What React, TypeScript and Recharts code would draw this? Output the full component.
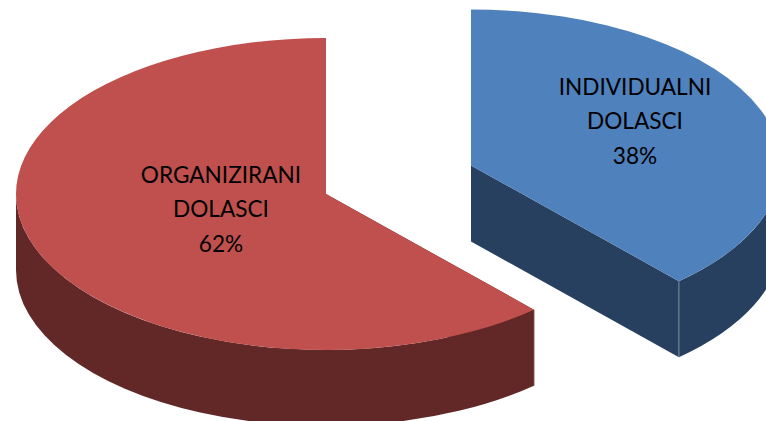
import React from "react";
import { PieChart, Pie } from "recharts";

const names = ["INDIVIDUALNI|DOLASCI", "ORGANIZIRANI|DOLASCI"];
const shares = [38.3, 61.7];
const topColors = ["#4F81BD", "#C0504D"];
const sideColors = ["#28405F", "#622828"];
const seamColors = ["#7E8DA1", "#7A4644"];
const explode = [
  { x: 145, y: -28.5 },
  { x: 0, y: 0 },
];
const labelCenters = [
  { x: 164, y: -44.5 },
  { x: -105, y: 15 },
];

const RX = 310;
const RY_RATIO = 0.503;
const DEPTH = 76;
const FONT = "Lato, 'Noto Sans', sans-serif";
const FONT_SIZE = 22.6;
const LINE = 34.5;

const data = names.map((name, i) => ({ name, value: shares[i], fill: topColors[i], i }));

function SliceShape(props: any) {
  const { cx, cy, outerRadius, startAngle, endAngle, payload } = props;
  const idx = payload?.i ?? props.index ?? 0;
  const ox = cx + explode[idx].x;
  const oy = cy + explode[idx].y;
  const rx = outerRadius;
  const ry = outerRadius * RY_RATIO;
  const pt = (deg: number, dz = 0) => {
    const r = (deg * Math.PI) / 180;
    return { x: ox + rx * Math.cos(r), y: oy - ry * Math.sin(r) + dz };
  };
  const s = pt(startAngle);
  const e = pt(endAngle);
  const large = Math.abs(startAngle - endAngle) > 180 ? 1 : 0;
  const top = `M${ox},${oy} L${s.x},${s.y} A${rx},${ry} 0 ${large} 1 ${e.x},${e.y} Z`;

  const from = Math.min(startAngle, 0);
  const to = Math.max(endAngle, -180);
  const a = pt(from);
  const b = pt(to);
  const aD = pt(from, DEPTH);
  const bD = pt(to, DEPTH);
  const side = `M${a.x},${a.y} A${rx},${ry} 0 0 1 ${b.x},${b.y} L${bD.x},${bD.y} A${rx},${ry} 0 0 0 ${aD.x},${aD.y} Z`;
  const face = (p: { x: number; y: number }) =>
    `M${ox},${oy} L${p.x},${p.y} L${p.x},${p.y + DEPTH} L${ox},${oy + DEPTH} Z`;
  const sideColor = sideColors[idx];
  const corner = idx === 0 ? e : s;
  return (
    <g>
      <path d={face(s)} fill={sideColor} />
      <path d={face(e)} fill={sideColor} />
      <path d={side} fill={sideColor} />
      <line x1={corner.x} y1={corner.y} x2={corner.x} y2={corner.y + DEPTH} stroke={seamColors[idx]} strokeWidth={1} />
      <path d={top} fill={topColors[idx]} />
    </g>
  );
}

function SliceLabel(props: any) {
  const { cx, cy, percent, payload, index } = props;
  const idx = payload?.i ?? index ?? 0;
  const x = cx + explode[idx].x + labelCenters[idx].x;
  const y = cy + explode[idx].y + labelCenters[idx].y;
  const lines = [...names[idx].split("|"), `${Math.round(percent * 100)}%`];
  return (
    <text x={x} textAnchor="middle" fontFamily={FONT} fontSize={FONT_SIZE} fill="#000">
      {lines.map((l, i) => (
        <tspan key={l} x={x} y={y + (i - 1) * LINE + 8}>
          {l}
        </tspan>
      ))}
    </text>
  );
}

export default function App() {
  return (
    <div style={{ position: "absolute", left: 0, top: 0, width: 766, height: 421, overflow: "hidden", background: "#fff" }}>
      <PieChart width={766} height={421} margin={{ top: 0, right: 0, bottom: 0, left: 0 }}>
        <Pie
          data={data}
          dataKey="value"
          nameKey="name"
          cx={326}
          cy={194}
          innerRadius={0}
          outerRadius={RX}
          startAngle={90}
          endAngle={-270}
          stroke="none"
          isAnimationActive={false}
          shape={SliceShape}
          label={SliceLabel}
          labelLine={false}
        />
      </PieChart>
    </div>
  );
}
